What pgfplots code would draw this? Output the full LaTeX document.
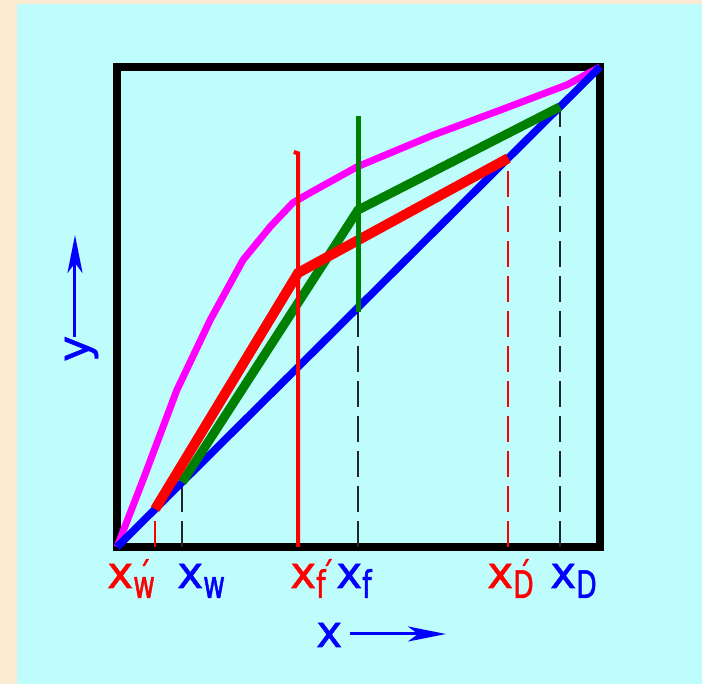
\documentclass[border=0pt]{standalone}
\usepackage{pgfplots}
\pgfplotsset{compat=1.18}
\usepackage{fontspec}
\setmainfont{DejaVu Sans}
\newfontfamily\xfnt[FakeBold=1.2]{DejaVu Sans}
\newfontfamily\subfnt[FakeStretch=0.7, FakeBold=1.2]{DejaVu Sans}
\usetikzlibrary{arrows.meta}

\definecolor{bgbeige}{HTML}{FAEBD2}
\definecolor{bgcyan}{HTML}{BFFCFC}
\definecolor{eqmag}{HTML}{FF00FF}
\definecolor{opgreen}{HTML}{008000}

% x with subscript and optional prime
\newcommand\xlab[2]{{\fontsize{44}{48}\xfnt x}%
  \makebox[0pt][l]{\hspace{5pt}\fontsize{36}{40}\subfnt #2}%
  \raisebox{-10pt}{\fontsize{38}{40}\subfnt #1}}

\begin{document}
\begin{tikzpicture}
\fill[bgbeige] (-117pt,-137pt) rectangle (585pt,547pt);
\useasboundingbox (-117pt,-137pt) rectangle (585pt,547pt);
\fill[bgcyan] (-100pt,-137pt) rectangle (585pt,543pt);

\begin{axis}[
    scale only axis,
    width=483pt,
    height=480pt,
    xmin=0, xmax=1,
    ymin=0, ymax=1,
    xtick=\empty, ytick=\empty,
    axis line style={draw=none},
    clip=false,
]
% frame
\draw[line width=8pt, black] (rel axis cs:0,0) rectangle (rel axis cs:1,1);

% dashed drop lines
\addplot[red, line width=2.4pt, dash pattern=on 26pt off 9pt] coordinates {(0.079,0) (0.079,0.079)};
\addplot[black!85, line width=2.4pt, dash pattern=on 26pt off 9pt] coordinates {(0.135,0) (0.135,0.135)};
\addplot[black!85, line width=2.4pt, dash pattern=on 26pt off 9pt] coordinates {(0.499,0) (0.499,0.5)};
\addplot[red, line width=2.4pt, dash pattern=on 26pt off 9pt] coordinates {(0.810,0) (0.810,0.810)};
\addplot[black!85, line width=2.4pt, dash pattern=on 26pt off 9pt] coordinates {(0.917,0) (0.917,0.917)};

% equilibrium curve
\addplot[eqmag, line width=7pt] coordinates {
    (0,0) (0.054,0.140) (0.124,0.327) (0.193,0.473) (0.261,0.598)
    (0.317,0.667) (0.364,0.717) (0.400,0.738) (0.497,0.792)
    (0.654,0.858) (0.793,0.910) (0.932,0.963) (1,1)
};

% diagonal
\addplot[blue, line width=7.5pt] coordinates {(0,0) (1,1)};

% operating lines
\addplot[opgreen, line width=9pt] coordinates {(0.135,0.135) (0.499,0.702) (0.917,0.917)};
\addplot[red, line width=10pt] coordinates {(0.079,0.079) (0.375,0.571) (0.810,0.810)};

% feed lines
\addplot[opgreen, line width=5pt] coordinates {(0.499,0.49) (0.499,0.898)};
\addplot[red, line width=4pt] coordinates {(0.366,0.823) (0.375,0.820) (0.375,0)};
\end{axis}

% tick labels
\node[anchor=base west, inner sep=0pt, red]  at (-10pt,-41pt) {\xlab{w}{´}};
\node[anchor=base west, inner sep=0pt, blue] at (60pt,-41pt)  {\xlab{w}{}};
\node[anchor=base west, inner sep=0pt, red]  at (173pt,-41pt) {\xlab{f}{´}};
\node[anchor=base west, inner sep=0pt, blue] at (219pt,-41pt) {\xlab{f}{}};
\node[anchor=base west, inner sep=0pt, red]  at (370pt,-41pt) {\xlab{D}{´}};
\node[anchor=base west, inner sep=0pt, blue] at (433pt,-41pt) {\xlab{D}{}};

% axis names with arrows
\node[anchor=base west, inner sep=0pt, blue] at (199pt,-100pt) {\fontsize{44}{48}\xfnt x};
\draw[blue, line width=3pt, -{Stealth[length=38pt, width=15pt, inset=10pt]}] (233pt,-87pt) -- (329pt,-87pt);
\node[anchor=base west, inner sep=0pt, blue, rotate=90] at (-28pt,185pt) {\fontsize{44}{48}\xfnt y};
\draw[blue, line width=3pt, -{Stealth[length=38pt, width=15pt, inset=10pt]}] (-42pt,210pt) -- (-42pt,312pt);
\end{tikzpicture}
\end{document}
